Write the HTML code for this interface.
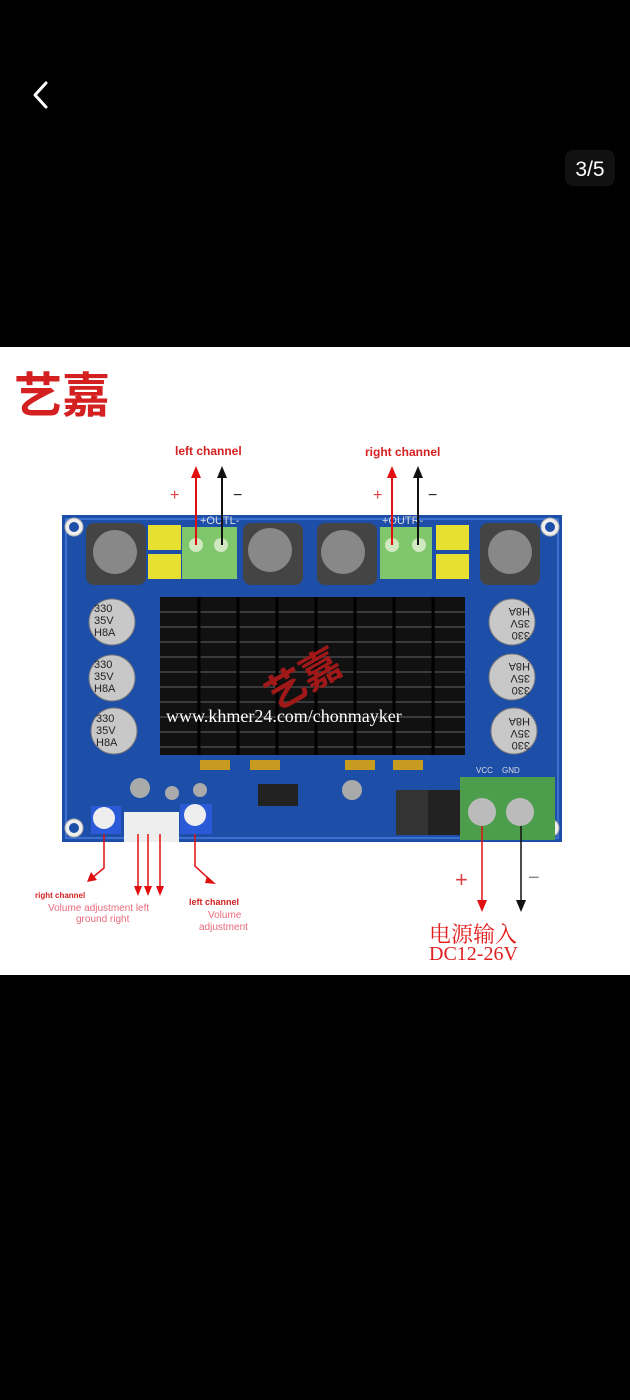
<!DOCTYPE html>
<html><head><meta charset="utf-8"><style>
html,body{margin:0;padding:0;background:#000;width:630px;height:1400px;overflow:hidden}
</style></head><body>
<svg width="630" height="1400" xmlns="http://www.w3.org/2000/svg" font-family="Liberation Sans, sans-serif">
<rect width="630" height="1400" fill="#000"/>
<path d="M46 83 L35 95 L46 107" stroke="#fff" stroke-width="3" fill="none" stroke-linecap="round" stroke-linejoin="round"/>
<rect x="565" y="150" width="50" height="36" rx="8" fill="#111"/>
<text x="590" y="176" fill="#fff" font-size="21" text-anchor="middle">3/5</text>
<rect x="0" y="347" width="630" height="628" fill="#fff"/>
<text x="14" y="412" fill="#d42020" font-size="48" font-weight="bold" font-family="Noto Sans CJK SC, sans-serif">艺嘉</text>
<!-- board -->
<rect x="62" y="515" width="500" height="327" fill="#1d4ea8"/>
<rect x="66" y="519" width="492" height="319" fill="none" stroke="#3b6fd0" stroke-width="2"/>
<g fill="#eee" stroke="#aaa"><circle cx="74" cy="527" r="9"/><circle cx="550" cy="527" r="9"/><circle cx="74" cy="828" r="9"/><circle cx="550" cy="828" r="9"/></g>
<g fill="#1d4ea8"><circle cx="74" cy="527" r="5"/><circle cx="550" cy="527" r="5"/><circle cx="74" cy="828" r="5"/><circle cx="550" cy="828" r="5"/></g>
<!-- inductors -->
<g><rect x="86" y="523" width="60" height="62" rx="8" fill="#444"/><circle cx="115" cy="552" r="22" fill="#888"/>
<rect x="243" y="523" width="60" height="62" rx="8" fill="#444"/><circle cx="270" cy="550" r="22" fill="#888"/>
<rect x="317" y="523" width="60" height="62" rx="8" fill="#444"/><circle cx="343" cy="552" r="22" fill="#888"/>
<rect x="480" y="523" width="60" height="62" rx="8" fill="#444"/><circle cx="510" cy="552" r="22" fill="#888"/></g>
<g fill="#e8e030"><rect x="148" y="525" width="33" height="25"/><rect x="148" y="554" width="33" height="25"/><rect x="436" y="525" width="33" height="25"/><rect x="436" y="554" width="33" height="25"/></g>
<g fill="#7fc76a"><rect x="182" y="527" width="55" height="52"/><rect x="380" y="527" width="52" height="52"/></g>
<g fill="#cfe8c0"><circle cx="196" cy="545" r="7"/><circle cx="221" cy="545" r="7"/><circle cx="392" cy="545" r="7"/><circle cx="419" cy="545" r="7"/></g>
<text x="200" y="524" fill="#ddd" font-size="11">+OUTL-</text><text x="382" y="524" fill="#ddd" font-size="11">+OUTR-</text>
<!-- heatsink -->
<rect x="160" y="597" width="305" height="158" fill="#111"/>
<g stroke="#3a3a3a" stroke-width="2">
<line x1="160" y1="612" x2="465" y2="612"/><line x1="160" y1="627" x2="465" y2="627"/><line x1="160" y1="642" x2="465" y2="642"/><line x1="160" y1="657" x2="465" y2="657"/><line x1="160" y1="672" x2="465" y2="672"/><line x1="160" y1="687" x2="465" y2="687"/><line x1="160" y1="702" x2="465" y2="702"/><line x1="160" y1="717" x2="465" y2="717"/><line x1="160" y1="732" x2="465" y2="732"/><line x1="160" y1="747" x2="465" y2="747"/></g>
<g stroke="#000" stroke-width="3"><line x1="199" y1="597" x2="199" y2="755"/><line x1="238" y1="597" x2="238" y2="755"/><line x1="277" y1="597" x2="277" y2="755"/><line x1="316" y1="597" x2="316" y2="755"/><line x1="355" y1="597" x2="355" y2="755"/><line x1="394" y1="597" x2="394" y2="755"/><line x1="433" y1="597" x2="433" y2="755"/></g>
<text x="262" y="700" fill="#a01818" font-size="40" font-weight="bold" font-family="Noto Sans CJK SC, sans-serif" transform="rotate(-30 290 680)">艺嘉</text>
<text x="166" y="722" fill="#fff" font-size="18" font-family="Liberation Serif, serif">www.khmer24.com/chonmayker</text>
<!-- caps -->
<g fill="#c8c8c8" stroke="#777"><circle cx="112" cy="622" r="23"/><circle cx="112" cy="678" r="23"/><circle cx="114" cy="731" r="23"/><circle cx="512" cy="622" r="23"/><circle cx="512" cy="677" r="23"/><circle cx="514" cy="731" r="23"/></g>
<g font-size="11" fill="#222"><text x="94" y="612">330</text><text x="94" y="624">35V</text><text x="94" y="636">H8A</text>
<text x="94" y="668">330</text><text x="94" y="680">35V</text><text x="94" y="692">H8A</text>
<text x="96" y="722">330</text><text x="96" y="734">35V</text><text x="96" y="746">H8A</text></g>
<g font-size="11" fill="#222" transform="rotate(180 512 677)"><text x="494" y="612">330</text><text x="494" y="624">35V</text><text x="494" y="636">H8A</text>
<text x="494" y="667">330</text><text x="494" y="679">35V</text><text x="494" y="691">H8A</text>
<text x="494" y="722">330</text><text x="494" y="734">35V</text><text x="494" y="746">H8A</text></g>
<g fill="#c89a20"><rect x="200" y="760" width="30" height="10"/><rect x="250" y="760" width="30" height="10"/><rect x="345" y="760" width="30" height="10"/><rect x="393" y="760" width="30" height="10"/></g>
<!-- bottom parts -->
<rect x="258" y="784" width="40" height="22" fill="#222"/>
<rect x="396" y="790" width="32" height="45" fill="#333"/><rect x="428" y="790" width="32" height="45" fill="#222"/>
<rect x="460" y="777" width="52" height="63" fill="#4c9e4c"/><rect x="505" y="777" width="50" height="63" fill="#4c9e4c"/>
<circle cx="482" cy="812" r="14" fill="#bbb"/><circle cx="520" cy="812" r="14" fill="#bbb"/>
<text x="476" y="773" fill="#ddd" font-size="8">VCC</text><text x="502" y="773" fill="#ddd" font-size="8">GND</text>
<rect x="91" y="806" width="30" height="28" fill="#2a5ad8"/><circle cx="104" cy="818" r="11" fill="#eee"/>
<rect x="124" y="812" width="55" height="30" fill="#eee"/>
<rect x="180" y="804" width="32" height="30" fill="#2a5ad8"/><circle cx="195" cy="815" r="11" fill="#eee"/>
<g fill="#aaa"><circle cx="140" cy="788" r="10"/><circle cx="172" cy="793" r="7"/><circle cx="200" cy="790" r="7"/><circle cx="352" cy="790" r="10"/></g>
<!-- top labels -->
<text x="175" y="455" fill="#d42020" font-size="12" font-weight="bold">left channel</text>
<text x="365" y="456" fill="#d42020" font-size="12" font-weight="bold">right channel</text>
<text x="170" y="500" fill="#e04040" font-size="16">+</text><text x="233" y="500" fill="#222" font-size="16">−</text>
<text x="373" y="500" fill="#e04040" font-size="16">+</text><text x="428" y="500" fill="#222" font-size="16">−</text>
<g stroke-width="2"><line x1="196" y1="545" x2="196" y2="474" stroke="#e01010"/><line x1="222" y1="545" x2="222" y2="474" stroke="#111"/>
<line x1="392" y1="545" x2="392" y2="474" stroke="#e01010"/><line x1="418" y1="545" x2="418" y2="474" stroke="#111"/></g>
<path d="M191 478 L196 466 L201 478Z" fill="#e01010"/><path d="M217 478 L222 466 L227 478Z" fill="#111"/>
<path d="M387 478 L392 466 L397 478Z" fill="#e01010"/><path d="M413 478 L418 466 L423 478Z" fill="#111"/>
<!-- bottom arrows -->
<g stroke="#e01010" stroke-width="1.5" fill="none"><path d="M104 834 L104 868 L92 878"/><line x1="138" y1="834" x2="138" y2="888"/><line x1="148" y1="834" x2="148" y2="888"/><line x1="160" y1="834" x2="160" y2="888"/><path d="M195 834 L195 866 L210 880"/>
<line x1="482" y1="826" x2="482" y2="902"/></g>
<line x1="521" y1="826" x2="521" y2="902" stroke="#111" stroke-width="1.5"/>
<g fill="#e01010"><path d="M87 882 L91 872 L97 880Z"/><path d="M134 886 L138 896 L142 886Z"/><path d="M144 886 L148 896 L152 886Z"/><path d="M156 886 L160 896 L164 886Z"/><path d="M207 876 L216 884 L205 883Z"/><path d="M477 900 L482 912 L487 900Z"/></g>
<path d="M516 900 L521 912 L526 900Z" fill="#111"/>
<text x="35" y="898" fill="#d42020" font-size="8" font-weight="bold">right channel</text>
<text x="48" y="911" fill="#e86a7a" font-size="10">Volume adjustment left</text>
<text x="76" y="922" fill="#e86a7a" font-size="10">ground right</text>
<text x="189" y="905" fill="#d42020" font-size="9" font-weight="bold">left channel</text>
<text x="208" y="918" fill="#e86a7a" font-size="10">Volume</text>
<text x="199" y="930" fill="#e86a7a" font-size="10">adjustment</text>
<text x="455" y="887" fill="#e04040" font-size="22">+</text><text x="528" y="884" fill="#888" font-size="20">−</text>
<text x="429" y="942" fill="#e02020" font-size="22" font-family="Noto Serif CJK SC, serif">电源输入</text>
<text x="429" y="960" fill="#e02020" font-size="20" font-family="Liberation Serif, serif">DC12-26V</text>
</svg>
</body></html>
